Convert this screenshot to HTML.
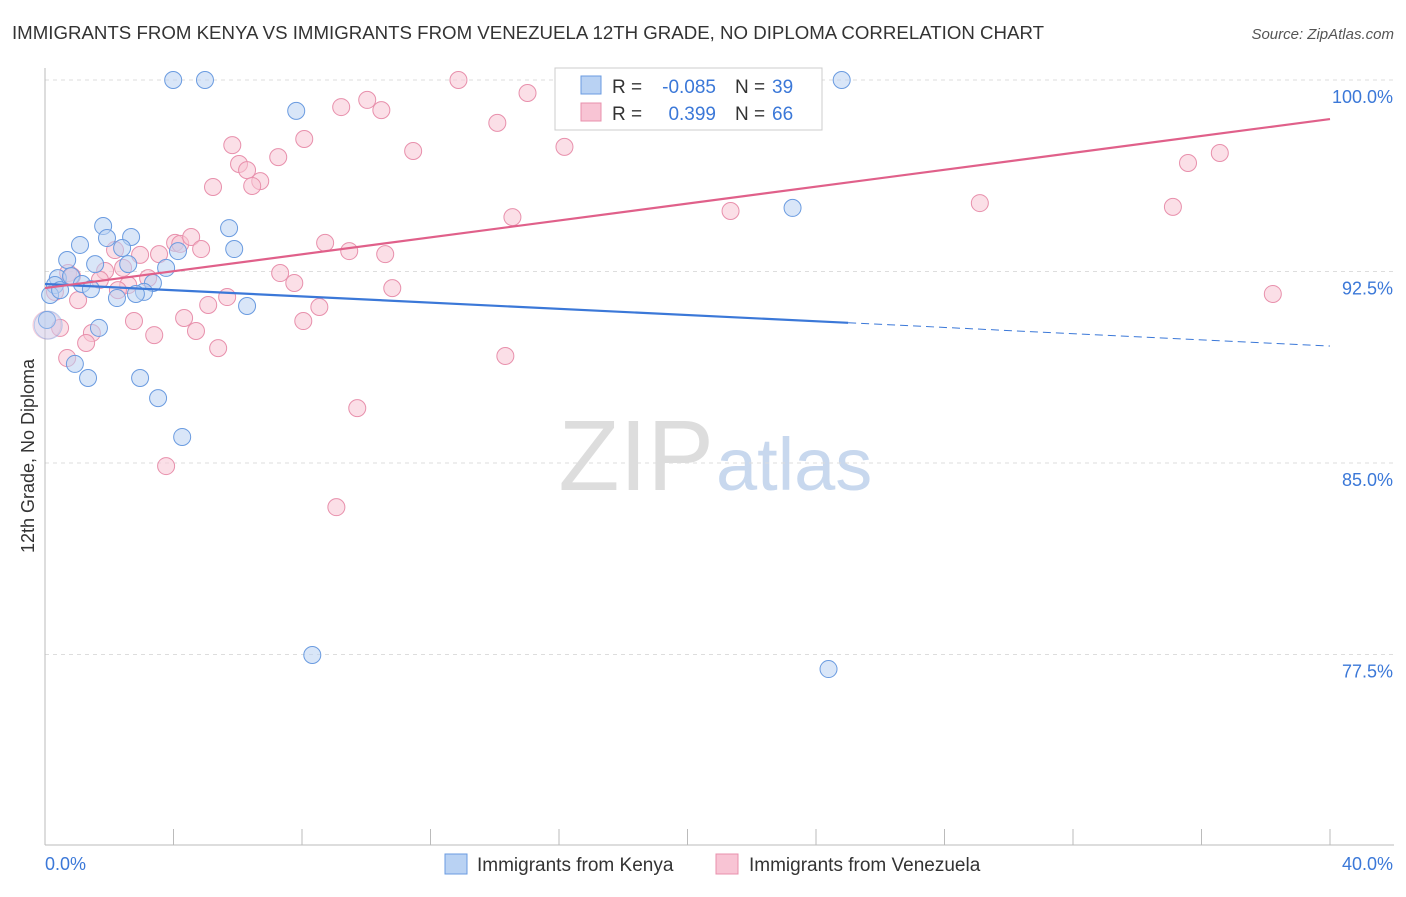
<!DOCTYPE html>
<html><head><meta charset="utf-8"><style>
body{margin:0;background:#fff;font-family:"Liberation Sans",sans-serif;}
svg text{font-family:"Liberation Sans",sans-serif;}
</style></head><body>
<svg id="chart" width="1406" height="892" xmlns="http://www.w3.org/2000/svg">
<text x="12" y="39" font-size="18" fill="#333" textLength="1032" lengthAdjust="spacingAndGlyphs">IMMIGRANTS FROM KENYA VS IMMIGRANTS FROM VENEZUELA 12TH GRADE, NO DIPLOMA CORRELATION CHART</text>
<text x="1394" y="39" font-size="15" fill="#555" text-anchor="end" font-style="italic">Source: ZipAtlas.com</text>
<text x="714" y="490" font-size="100" text-anchor="end" fill="#ddd" font-family="Liberation Serif,serif">ZIP</text>
<text x="716" y="490" font-size="74" fill="#c8d8ee">atlas</text>
<text transform="translate(34,456) rotate(-90)" font-size="18" fill="#333" text-anchor="middle">12th Grade, No Diploma</text>
<g id="grid"></g><g id="axes"></g><g id="pts"></g><g id="lines"></g>
<g>
<rect x="555" y="68" width="267" height="62" fill="#fff" stroke="#ccc"/>
<rect x="581" y="76" width="20" height="18" fill="#b9d2f3" stroke="#6a9be0"/>
<rect x="581" y="103" width="20" height="18" fill="#f8c4d4" stroke="#e890ac"/>
<text x="612" y="93" font-size="19" fill="#333">R =</text>
<text x="716" y="93" font-size="19" fill="#3b78d8" text-anchor="end">-0.085</text>
<text x="735" y="93" font-size="19" fill="#333">N =</text>
<text x="772" y="93" font-size="19" fill="#3b78d8">39</text>
<text x="612" y="120" font-size="19" fill="#333">R =</text>
<text x="716" y="120" font-size="19" fill="#3b78d8" text-anchor="end">0.399</text>
<text x="735" y="120" font-size="19" fill="#333">N =</text>
<text x="772" y="120" font-size="19" fill="#3b78d8">66</text>
</g>
<g>
<rect x="445" y="854" width="22" height="20" fill="#b9d2f3" stroke="#6a9be0"/>
<text x="477" y="871" font-size="19" fill="#333">Immigrants from Kenya</text>
<rect x="716" y="854" width="22" height="20" fill="#f8c4d4" stroke="#e890ac"/>
<text x="749" y="871" font-size="19" fill="#333">Immigrants from Venezuela</text>
</g>
</svg>
<script>
const yTicks=[100,92.5,85,77.5];
const yTickLabels=["100.0%","92.5%","85.0%","77.5%"];
const kenyaX=[3.99,4.98,24.8,7.82,23.27,1.81,5.73,1.09,1.93,2.68,2.4,4.14,5.89,0.69,1.56,2.59,3.77,0.4,0.81,0.31,1.15,1.43,3.36,3.08,2.83,2.24,6.29,1.68,0.06,0.93,1.34,2.96,3.52,4.27,8.32,24.39,0.16,0.47,0.1];
const kenyaY=[100,100,100,98.79,94.99,94.28,94.2,93.54,93.81,93.85,93.42,93.3,93.38,92.95,92.79,92.79,92.64,92.24,92.32,91.97,92.01,91.81,92.05,91.7,91.62,91.46,91.15,90.29,90.6,88.88,88.33,88.33,87.54,86.02,77.48,76.93,91.58,91.77,90.4];
const venX=[12.87,21.96,9.22,10.03,10.47,15.02,14.08,8.07,5.83,16.17,11.46,6.04,7.26,6.29,6.7,6.45,5.23,36.57,35.58,29.1,35.11,21.34,14.55,8.72,9.47,10.59,4.05,4.21,4.55,4.86,3.55,2.96,2.18,2.43,1.87,0.72,0.84,7.32,7.76,10.81,38.22,5.67,5.08,8.54,4.33,2.77,8.04,4.7,3.4,1.46,0.47,1.28,5.39,0.69,14.33,9.72,3.77,9.07,1.03,3.21,2.59,0.06,0.31,1.71,2.27];
const venY=[100,100,98.94,99.22,98.82,99.49,98.32,97.69,97.45,97.38,97.22,96.71,96.98,96.47,96.04,95.85,95.81,97.14,96.75,95.18,95.03,94.87,94.63,93.62,93.3,93.18,93.62,93.58,93.85,93.38,93.18,93.15,93.34,92.64,92.52,92.44,92.32,92.44,92.05,91.85,91.62,91.5,91.19,91.11,90.68,90.56,90.56,90.17,90.01,90.09,90.29,89.7,89.5,89.11,89.19,87.15,84.88,83.27,91.38,92.24,91.97,90.4,91.7,92.17,91.77];
const kenyaTrend=[92.01,89.58];
const venTrend=[91.85,98.47];
const NS="http://www.w3.org/2000/svg";
const xS=v=>45+v*(1285/40);
const yS=v=>80+(100-v)*(191.5/7.5);
function mk(tag,attrs,parent){const e=document.createElementNS(NS,tag);for(const k in attrs)e.setAttribute(k,attrs[k]);document.getElementById(parent).appendChild(e);return e;}
yTicks.forEach((t,i)=>{
 const l=mk('line',{x1:45,x2:1394,y1:yS(t),y2:yS(t),stroke:'#ddd','stroke-dasharray':'4 4'},'grid');
 
 
 const tx=mk('text',{x:1393,y:yS(t)+23,'font-size':18,fill:'#3b78d8','text-anchor':'end'},'grid');
 tx.textContent=yTickLabels[i];
 
 
});
const ax=mk('line',{x1:45,x2:45,y1:68,y2:845,stroke:'#bbb'},'axes');


const bx=mk('line',{x1:45,x2:1394,y1:845,y2:845,stroke:'#bbb'},'axes');


for(let v=0;v<=40;v+=4){
 const t=mk('line',{x1:xS(v),x2:xS(v),y1:829,y2:845,stroke:'#bbb'},'axes');
 
 
}
const x0=mk('text',{x:45,y:870,'font-size':18,fill:'#3b78d8'},'axes');x0.textContent='0.0%';


const x1=mk('text',{x:1393,y:870,'font-size':18,fill:'#3b78d8','text-anchor':'end'},'axes');x1.textContent='40.0%';


function pts(X,Y,fill,stroke,name){X.forEach((x,i)=>{
 const big=(x<0.15&&Math.abs(Y[i]-90.4)<0.05);
 const c=mk('circle',{cx:xS(x),cy:yS(Y[i]),r:big?14:8.5,fill:fill,'fill-opacity':big?0.35:0.55,stroke:stroke,'stroke-width':1,'stroke-opacity':big?0.4:1},'pts');
 
 
});}
pts(venX,venY,'#f8c4d4','#e890ac','venezuela-point');
pts(kenyaX,kenyaY,'#b9d2f3','#6a9be0','kenya-point');
const kAt=x=>kenyaTrend[0]+(kenyaTrend[1]-kenyaTrend[0])*x/40;
const l1=mk('line',{x1:xS(0),y1:yS(kAt(0)),x2:xS(25),y2:yS(kAt(25)),stroke:'#3b78d8','stroke-width':2.2},'lines');


const l2=mk('line',{x1:xS(25),y1:yS(kAt(25)),x2:xS(40),y2:yS(kAt(40)),stroke:'#3b78d8','stroke-width':1,'stroke-dasharray':'8 5'},'lines');


const l3=mk('line',{x1:xS(0),y1:yS(venTrend[0]),x2:xS(40),y2:yS(venTrend[1]),stroke:'#e0608a','stroke-width':2.2},'lines');


</script>
</body></html>
